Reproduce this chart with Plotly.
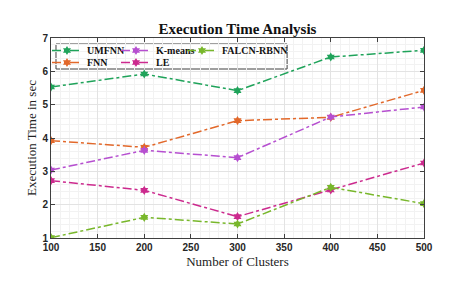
import plotly.graph_objects as go

clusters = [100, 200, 300, 400, 500]
umfnn = [5.53, 5.92, 5.42, 6.43, 6.63]
fnn = [3.92, 3.72, 4.52, 4.62, 5.43]
kmeans = [3.04, 3.63, 3.41, 4.63, 4.93]
falcn = [1.01, 1.62, 1.42, 2.52, 2.03]
le = [2.72, 2.43, 1.64, 2.44, 3.25]

W, H = 465, 282
# name, values, colour, legend id, legend left (px), legend row centre (px)
series = [
    ("UMFNN", umfnn, "#1fa35a", "legend", 47, 50.5),
    ("FNN", fnn, "#e2682a", "legend2", 47, 62.5),
    ("K-means", kmeans, "#b64fd0", "legend3", 116, 50.5),
    ("LE", le, "#cc2a8e", "legend4", 116, 62.5),
    ("FALCN-RBNN", falcn, "#78b72b", "legend5", 182, 50.5),
]

legfont = dict(family="Liberation Serif", size=10, color="#111111")

fig = go.Figure()
legends = {}
for name, vals, color, lg, lx, ly in series:
    fig.add_trace(go.Scatter(
        x=clusters, y=vals, name="<b>" + name + "</b>", mode="lines+markers",
        line=dict(color=color, width=1.5, dash="dashdot"),
        marker=dict(symbol="hexagram", size=7, color=color),
        legend=lg, showlegend=True,
    ))
    legends[lg] = dict(x=lx / W, y=1 - ly / H, xref="container", yref="container",
                       xanchor="left", yanchor="middle",
                       orientation="h", bgcolor="rgba(0,0,0,0)", font=legfont,
                       itemwidth=30, borderwidth=0, visible=True)

tickfont = dict(family="Liberation Sans", size=10, color="#262626", weight="bold")

fig.update_layout(
    width=W, height=H, showlegend=True,
    margin=dict(l=51, r=41, t=38, b=44, autoexpand=False),
    paper_bgcolor="white", plot_bgcolor="white",
    title=dict(text="<b>Execution Time Analysis</b>", x=0.5, xanchor="center",
               xref="paper", y=0.898, yref="container", yanchor="middle",
               font=dict(family="Liberation Serif", size=15, color="#111111")),
    shapes=[dict(type="rect", xref="paper", yref="paper",
                 x0=0.0134, x1=0.633, y0=0.845, y1=0.97,
                 line=dict(color="#404040", width=1), fillcolor="white",
                 layer="between")],
    **legends,
)

fig.update_xaxes(
    range=[100, 500], tickmode="array", tickvals=[100, 150, 200, 250, 300, 350, 400, 450, 500],
    tickfont=tickfont, ticks="inside", ticklen=4, tickcolor="#404040",
    showline=True, linecolor="#404040", linewidth=1, mirror="ticks",
    showgrid=True, gridcolor="#e3e3e3", gridwidth=1,
    minor=dict(dtick=10, showgrid=True, gridcolor="#f2f2f2", gridwidth=1),
    zeroline=False, automargin=False,
    title=dict(text="Number of Clusters", standoff=4,
               font=dict(family="Liberation Serif", size=13, color="#222222")),
)
fig.update_yaxes(
    range=[1, 7], tickmode="array", tickvals=[1, 2, 3, 4, 5, 6, 7],
    tickfont=tickfont, ticks="inside", ticklen=4, tickcolor="#404040",
    showline=True, linecolor="#404040", linewidth=1, mirror="ticks",
    showgrid=True, gridcolor="#e3e3e3", gridwidth=1,
    minor=dict(dtick=0.2, showgrid=True, gridcolor="#f2f2f2", gridwidth=1),
    zeroline=False, automargin=False,
    title=dict(text="Execution Time in sec", standoff=2,
               font=dict(family="Liberation Serif", size=13, color="#222222")),
)

fig.write_html("out.html", config={"displayModeBar": False},
               post_script="document.body.style.margin='0';")
